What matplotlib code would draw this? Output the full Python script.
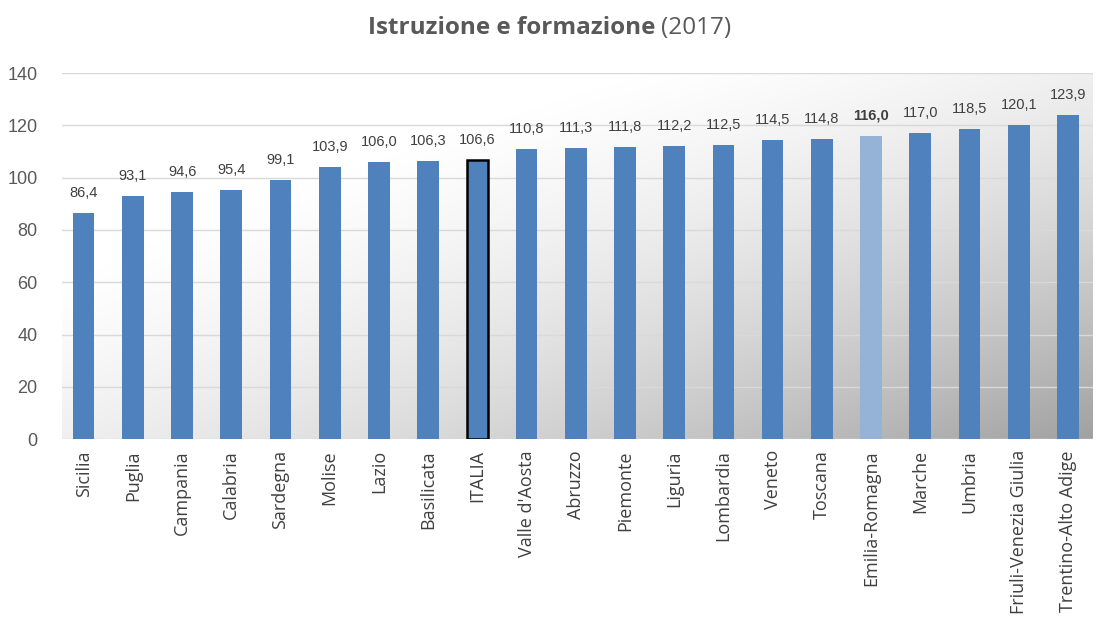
import numpy as np
import matplotlib
matplotlib.use('Agg')
import matplotlib.pyplot as plt

regions = ['Sicilia', 'Puglia', 'Campania', 'Calabria', 'Sardegna', 'Molise', 'Lazio',
           'Basilicata', 'ITALIA', "Valle d'Aosta", 'Abruzzo', 'Piemonte', 'Liguria',
           'Lombardia', 'Veneto', 'Toscana', 'Emilia-Romagna', 'Marche', 'Umbria',
           'Friuli-Venezia Giulia', 'Trentino-Alto Adige']
values = [86.4, 93.1, 94.6, 95.4, 99.1, 103.9, 106.0, 106.3, 106.6, 110.8, 111.3,
          111.8, 112.2, 112.5, 114.5, 114.8, 116.0, 117.0, 118.5, 120.1, 123.9]
yticks = [0, 20, 40, 60, 80, 100, 120, 140]

plt.rcParams['font.family'] = ['Liberation Sans', 'DejaVu Sans']

fig = plt.figure(figsize=(11.16, 6.3), dpi=100)
ax = fig.add_axes([0.056, 0.303, 0.923, 0.581])

x = np.arange(len(regions))
colors = ['#95b3d7' if r == 'Emilia-Romagna' else '#4f81bd' for r in regions]
bars = ax.bar(x, values, width=0.44, color=colors, zorder=3)
# ITALIA gets a black outline
i_it = regions.index('ITALIA')
bars[i_it].set_edgecolor('black')
bars[i_it].set_linewidth(1.8)

ax.set_xlim(-0.43, len(regions) - 0.5)
ax.set_ylim(0, 140)

# background: white top-left fading to grey bottom-right
gx, gy = np.meshgrid(np.linspace(0, 1, 400), np.linspace(0, 1, 200))
lev = np.clip(1.03 - 0.09 * gx**2 - 0.09 * gy**2 - 0.22 * gx * gy, 0, 1)
rgb = np.dstack([lev, lev, lev])
ax.imshow(rgb, aspect='auto', extent=[0, 1, 0, 1], transform=ax.transAxes,
          origin='upper', zorder=0, interpolation='bilinear')

for i, v in enumerate(values):
    lbl = f'{v:.1f}'.replace('.', ',')
    ax.text(i, v + 5, lbl, ha='center', va='bottom', fontsize=10.5,
            color='#404040', fontweight='bold' if regions[i] == 'Emilia-Romagna' else 'normal',
            zorder=4)

ax.set_yticks(yticks)
ax.set_yticklabels([str(t) for t in yticks], fontsize=13, color='#595959')
ax.set_xticks(x)
ax.set_xticklabels(regions, rotation=90, fontsize=13, color='#404040', family='Open Sans')
ax.tick_params(length=0, pad=8)
ax.tick_params(axis='y', pad=18)
ax.grid(axis='y', color='#d9d9d9', linewidth=1, zorder=1)
for s in ax.spines.values():
    s.set_visible(False)

fig.text(0.587, 0.955, 'Istruzione e formazione', ha='right', va='center',
         fontsize=17.5, fontweight='bold', color='#595959', family='Open Sans')
fig.text(0.592, 0.955, '(2017)', ha='left', va='center', fontsize=17.5,
         color='#595959', family='Open Sans')

fig.savefig('out.png', dpi=100)
